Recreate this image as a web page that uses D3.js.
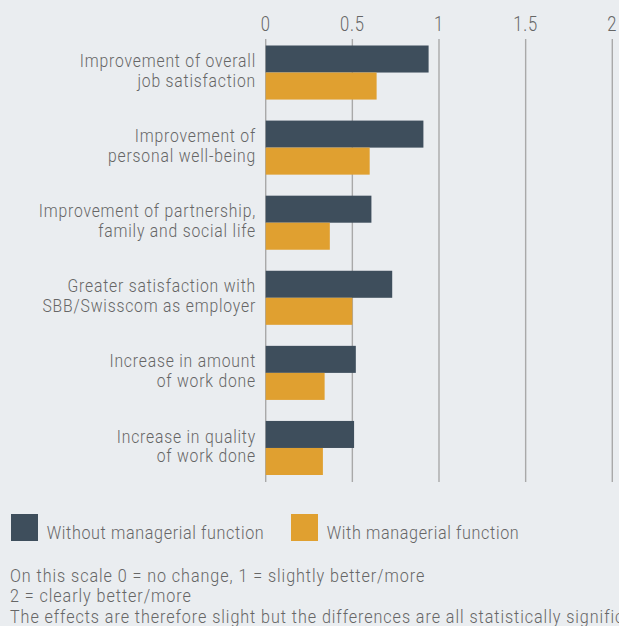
<!DOCTYPE html>
<html>
<head>
<meta charset="utf-8">
<script src="https://cdn.jsdelivr.net/npm/d3@7"></script>
<style>
  html, body { margin: 0; padding: 0; background: #eaedf0; }
  svg { display: block; }
  text { font-family: "Roboto", "Liberation Sans", sans-serif; font-weight: 300; fill: #666; }
</style>
</head>
<body>
<svg id="chart" width="619" height="626"></svg>
<script>
// Category labels (two lines each)
const categories = [
  ["Improvement of overall", "job satisfaction"],
  ["Improvement of", "personal well-being"],
  ["Improvement of partnership,", "family and social life"],
  ["Greater satisfaction with", "SBB/Swisscom as employer"],
  ["Increase in amount", "of work done"],
  ["Increase in quality", "of work done"]
];
const seriesNames = ["Without managerial function", "With managerial function"];
const withoutManagerial = [0.94, 0.91, 0.61, 0.73, 0.52, 0.51];
const withManagerial = [0.64, 0.60, 0.37, 0.50, 0.34, 0.33];
const tickValues = [0, 0.5, 1, 1.5, 2];
const tickLabels = ["0", "0.5", "1", "1.5", "2"];
const notes = [
  "On this scale 0 = no change, 1 = slightly better/more",
  "2 = clearly better/more",
  "The effects are therefore slight but the differences are all statistically significant"
];
const colors = ["#3e4e5c", "#e0a030"];

// Narrow type: horizontal squeeze applied around each text anchor
const SQUEEZE = 0.85;

const svg = d3.select("#chart");
const rows = categories.map((c, i) => ({ key: c.join(" "), lines: c, values: [withoutManagerial[i], withManagerial[i]] }));

const x = d3.scaleLinear().domain([0, 2]).range([265.7, 612.3]);
const y = d3.scaleBand().domain(rows.map(d => d.key)).range([45.5, 475]).paddingInner(0.28).paddingOuter(0);
const ySub = d3.scaleBand().domain([0, 1]).range([0, y.bandwidth()]);

// Vertical gridlines
svg.append("g").selectAll("line").data(tickValues).join("line")
  .attr("x1", d => x(d)).attr("x2", d => x(d))
  .attr("y1", 39).attr("y2", 482)
  .attr("stroke", "#a9a9a9").attr("stroke-width", 1.4);

// Top axis labels
svg.append("g").selectAll("g").data(tickValues).join("g")
  .attr("transform", d => `translate(${x(d)},30.5) scale(${SQUEEZE},1)`)
  .append("text")
  .attr("text-anchor", "middle")
  .style("font-size", "19.5px")
  .style("letter-spacing", "0.9px")
  .text((d, i) => tickLabels[i]);

// Bars
const groups = svg.append("g").selectAll("g").data(rows).join("g")
  .attr("transform", d => `translate(0,${y(d.key)})`);
groups.selectAll("rect").data(d => d.values).join("rect")
  .attr("x", x(0))
  .attr("y", (d, i) => ySub(i))
  .attr("width", d => x(d) - x(0))
  .attr("height", ySub.bandwidth())
  .attr("fill", (d, i) => colors[i]);

// Category labels
groups.append("g")
  .attr("transform", `translate(256,0) scale(${SQUEEZE},1)`)
  .append("text")
  .attr("text-anchor", "end")
  .style("font-size", "18.5px")
  .style("letter-spacing", "0.95px")
  .selectAll("tspan").data(d => d.lines).join("tspan")
  .attr("x", 0)
  .attr("y", (d, i) => y.bandwidth() / 2 - 5.4 + i * 19.5)
  .text(d => d);

// Legend
const legendX = [11, 291];
const legend = svg.append("g").selectAll("g").data(seriesNames).join("g")
  .attr("transform", (d, i) => `translate(${legendX[i]},514)`);
legend.append("rect").attr("width", 27).attr("height", 27).attr("fill", (d, i) => colors[i]);
legend.append("g")
  .attr("transform", `translate(35.7,25.3) scale(${SQUEEZE},1)`)
  .append("text")
  .style("font-size", "19px").style("letter-spacing", "0.75px")
  .text(d => d);

// Notes
svg.append("g").selectAll("g").data(notes).join("g")
  .attr("transform", (d, i) => `translate(10,${581.7 + i * 20.5}) scale(${SQUEEZE},1)`)
  .append("text")
  .style("font-size", "19px").style("letter-spacing", "1.1px")
  .text(d => d);
</script>
</body>
</html>
